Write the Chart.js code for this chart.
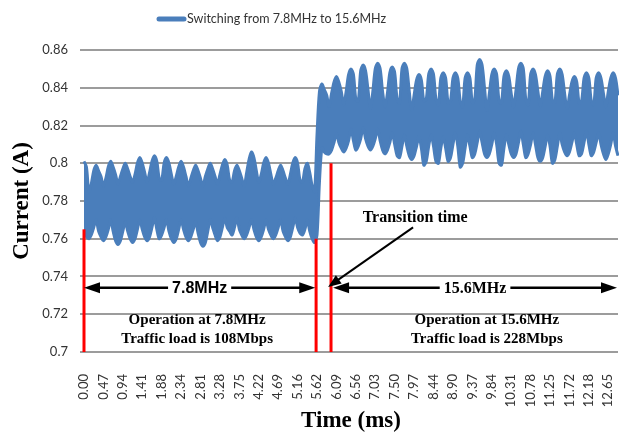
<!DOCTYPE html>
<html>
<head>
<meta charset="utf-8">
<title>Switching from 7.8MHz to 15.6MHz</title>
<script src="https://cdn.jsdelivr.net/npm/chart.js@4/dist/chart.umd.min.js"></script>
<style>
  html, body { margin: 0; padding: 0; background: #fff; }
  #wrap { width: 619px; height: 435px; }
</style>
</head>
<body>
<div id="wrap"><canvas id="currentChart" width="619" height="435"></canvas></div>
<script>
// ─── DATA ───
const seriesName = 'Switching from 7.8MHz to 15.6MHz';

// time axis labels (ms), one every 8 samples
const tickLabels = ['0.00', '0.47', '0.94', '1.41', '1.88', '2.34', '2.81', '3.28', '3.75', '4.22',
    '4.69', '5.16', '5.62', '6.09', '6.56', '7.03', '7.50', '7.97', '8.44', '8.90',
    '9.37', '9.84', '10.31', '10.78', '11.25', '11.72', '12.18', '12.65'];
const samplesPerTick = 8;

const yTickLabels = ['0.7', '0.72', '0.74', '0.76', '0.78', '0.8', '0.82', '0.84', '0.86'];

// upper / lower edge of the current trace (A), 7.8MHz part
const peak78 = [
    0.801, 0.798, 0.785, 0.789, 0.796, 0.799, 0.796, 0.793, 0.788, 0.792,
    0.798, 0.801, 0.798, 0.794, 0.789, 0.793, 0.797, 0.800, 0.797, 0.793,
    0.790, 0.794, 0.800, 0.803, 0.800, 0.795, 0.790, 0.795, 0.801, 0.804,
    0.801, 0.792, 0.791, 0.800, 0.803, 0.800, 0.794, 0.789, 0.793, 0.798,
    0.801, 0.798, 0.793, 0.788, 0.792, 0.796, 0.799, 0.796, 0.792, 0.788,
    0.793, 0.797, 0.800, 0.797, 0.793, 0.789, 0.794, 0.799, 0.802, 0.799,
    0.791, 0.790, 0.796, 0.799, 0.796, 0.792, 0.788, 0.795, 0.802, 0.806,
    0.803, 0.796, 0.790, 0.794, 0.800, 0.803, 0.800, 0.794, 0.789, 0.792,
    0.796, 0.799, 0.796, 0.792, 0.789, 0.794, 0.800, 0.803, 0.800, 0.791,
    0.790, 0.797, 0.800, 0.795, 0.788, 0.785, 0.815, 0.838
];
const trough78 = [
    0.763, 0.761, 0.760, 0.762, 0.766, 0.770, 0.764, 0.761, 0.759, 0.761,
    0.765, 0.770, 0.764, 0.759, 0.757, 0.759, 0.764, 0.769, 0.764, 0.760,
    0.758, 0.760, 0.765, 0.770, 0.765, 0.761, 0.759, 0.761, 0.766, 0.771,
    0.765, 0.760, 0.762, 0.766, 0.770, 0.764, 0.760, 0.758, 0.760, 0.765,
    0.770, 0.765, 0.761, 0.759, 0.761, 0.765, 0.769, 0.763, 0.758, 0.756,
    0.758, 0.764, 0.770, 0.766, 0.762, 0.759, 0.761, 0.766, 0.771, 0.766,
    0.764, 0.762, 0.766, 0.771, 0.765, 0.762, 0.760, 0.762, 0.766, 0.770,
    0.765, 0.761, 0.759, 0.761, 0.765, 0.770, 0.765, 0.762, 0.760, 0.762,
    0.766, 0.770, 0.764, 0.761, 0.759, 0.761, 0.766, 0.771, 0.766, 0.763,
    0.762, 0.765, 0.770, 0.764, 0.760, 0.758, 0.762, 0.790
];

// 15.6MHz part
const peak156 = [
    0.842, 0.839, 0.836, 0.830, 0.837, 0.843, 0.846, 0.843, 0.838, 0.831,
    0.838, 0.847, 0.850, 0.847, 0.834, 0.833, 0.849, 0.852, 0.849, 0.839,
    0.829, 0.838, 0.850, 0.853, 0.850, 0.838, 0.830, 0.837, 0.848, 0.851,
    0.848, 0.834, 0.832, 0.850, 0.853, 0.850, 0.838, 0.828, 0.836, 0.844,
    0.847, 0.844, 0.833, 0.834, 0.847, 0.850, 0.847, 0.834, 0.831, 0.845,
    0.848, 0.845, 0.832, 0.833, 0.845, 0.848, 0.845, 0.833, 0.830, 0.845,
    0.848, 0.845, 0.832, 0.834, 0.852, 0.855, 0.852, 0.840, 0.828, 0.837,
    0.847, 0.850, 0.847, 0.833, 0.832, 0.846, 0.849, 0.846, 0.837, 0.830,
    0.839, 0.850, 0.853, 0.850, 0.834, 0.831, 0.847, 0.850, 0.847, 0.838,
    0.830, 0.838, 0.846, 0.849, 0.846, 0.833, 0.832, 0.847, 0.850, 0.847,
    0.837, 0.829, 0.836, 0.843, 0.846, 0.843, 0.832, 0.833, 0.845, 0.848,
    0.845, 0.833, 0.831, 0.845, 0.848, 0.845, 0.837, 0.830, 0.838, 0.845,
    0.848, 0.845, 0.836
];
const trough156 = [
    0.808, 0.806, 0.805, 0.805, 0.807, 0.811, 0.816, 0.811, 0.808, 0.806,
    0.808, 0.812, 0.818, 0.812, 0.807, 0.809, 0.813, 0.819, 0.813, 0.809,
    0.807, 0.809, 0.813, 0.818, 0.812, 0.807, 0.805, 0.807, 0.811, 0.816,
    0.810, 0.804, 0.803, 0.809, 0.815, 0.809, 0.804, 0.802, 0.804, 0.809,
    0.814, 0.808, 0.799, 0.801, 0.809, 0.815, 0.809, 0.801, 0.800, 0.808,
    0.814, 0.808, 0.801, 0.803, 0.810, 0.816, 0.809, 0.798, 0.800, 0.808,
    0.815, 0.809, 0.803, 0.805, 0.811, 0.817, 0.811, 0.805, 0.803, 0.805,
    0.810, 0.816, 0.810, 0.800, 0.799, 0.808, 0.815, 0.810, 0.805, 0.803,
    0.805, 0.811, 0.817, 0.810, 0.803, 0.805, 0.810, 0.816, 0.810, 0.803,
    0.801, 0.803, 0.809, 0.815, 0.809, 0.800, 0.802, 0.809, 0.816, 0.810,
    0.806, 0.804, 0.806, 0.811, 0.816, 0.810, 0.804, 0.805, 0.811, 0.817,
    0.810, 0.804, 0.806, 0.811, 0.816, 0.810, 0.805, 0.802, 0.805, 0.810,
    0.816, 0.809, 0.804
];

// annotation positions (ms / A)
const markers = [
    { ms: 0.00, top: 0.765 },
    { ms: 5.60, top: 0.760 },
    { ms: 5.96, top: 0.800 }
];
const spanY = 0.734;

(function () {
    'use strict';

    const BLUE = '#4a7ebb';
    const upper = peak78.concat(peak156);
    const lower = trough78.concat(trough156);
    const labels = upper.map((_, i) => i % samplesPerTick === 0 ? tickLabels[i / samplesPerTick] : '');
    const msPerTick = (parseFloat(tickLabels[tickLabels.length - 1]) - parseFloat(tickLabels[0])) / (tickLabels.length - 1);

    Chart.defaults.font.family = 'Lato';
    Chart.defaults.color = '#333';

    // ─── ARROW HELPERS ───
    function head(ctx, x1, y1, x2, y2, len, half) {
        const a = Math.atan2(y2 - y1, x2 - x1);
        const bx = x2 - len * Math.cos(a), by = y2 - len * Math.sin(a);
        ctx.beginPath();
        ctx.moveTo(x2, y2);
        ctx.lineTo(bx + half * Math.sin(a), by - half * Math.cos(a));
        ctx.lineTo(bx - half * Math.sin(a), by + half * Math.cos(a));
        ctx.closePath();
        ctx.fill();
    }

    function line(ctx, x1, y1, x2, y2) {
        ctx.beginPath();
        ctx.moveTo(x1, y1);
        ctx.lineTo(x2, y2);
        ctx.stroke();
    }

    function span(ctx, x1, x2, y, text, font) {
        ctx.font = font;
        const cx = (x1 + x2) / 2;
        const w = ctx.measureText(text).width;
        ctx.lineWidth = 2.5;
        line(ctx, x1 + 8, y, cx - w / 2 - 4, y);
        line(ctx, cx + w / 2 + 4, y, x2 - 8, y);
        head(ctx, x2, y, x1, y, 16, 5.5);
        head(ctx, x1, y, x2, y, 16, 5.5);
        ctx.textAlign = 'center';
        ctx.textBaseline = 'middle';
        ctx.fillText(text, cx, y + 1);
    }

    // ─── LEGEND (Excel places it left of centre) ───
    const legendBox = {
        id: 'legendBox',
        afterDraw(chart) {
            const { ctx } = chart;
            ctx.save();
            ctx.strokeStyle = BLUE;
            ctx.lineWidth = 5;
            ctx.lineCap = 'round';
            line(ctx, 159, 19, 184, 19);
            ctx.fillStyle = '#333';
            ctx.font = '12.5px Lato';
            ctx.textAlign = 'left';
            ctx.textBaseline = 'middle';
            ctx.fillText(seriesName, 187, 19);
            ctx.restore();
        }
    };

    // ─── ANNOTATIONS ───
    const notes = {
        id: 'notes',
        afterDatasetsDraw(chart) {
            const { ctx, scales: { x, y } } = chart;
            const px = ms => x.getPixelForValue(ms / msPerTick * samplesPerTick);
            const base = y.getPixelForValue(0.70);
            ctx.save();

            // red transition markers
            ctx.strokeStyle = '#ff0000';
            ctx.lineWidth = 3;
            markers.forEach(m => line(ctx, px(m.ms), base, px(m.ms), y.getPixelForValue(m.top)));

            ctx.strokeStyle = '#000';
            ctx.fillStyle = '#000';
            const sy = y.getPixelForValue(spanY);
            span(ctx, px(0.00), px(5.58), sy, '7.8MHz', 'bold 16px "Liberation Sans"');
            span(ctx, px(6.01), px(12.86), sy, '15.6MHz', 'bold 16px "Liberation Serif"');

            // transition arrow
            const ax1 = px(7.94), ay1 = y.getPixelForValue(0.766);
            const ax2 = px(5.89), ay2 = y.getPixelForValue(0.7345);
            ctx.lineWidth = 2;
            line(ctx, ax1, ay1, ax2 + (ax1 - ax2) * 0.1, ay2 + (ay1 - ay2) * 0.1);
            head(ctx, ax1, ay1, ax2, ay2, 13, 5);

            ctx.textAlign = 'center';
            ctx.textBaseline = 'middle';
            ctx.font = 'bold 16px "Liberation Serif"';
            ctx.fillText('Transition time', px(7.99), y.getPixelForValue(0.7712));

            ctx.font = 'bold 15px "Liberation Serif"';
            ctx.fillText('Operation at 7.8MHz', px(2.73), y.getPixelForValue(0.7168));
            ctx.fillText('Traffic load is 108Mbps', px(2.73), y.getPixelForValue(0.7068));
            ctx.fillText('Operation at 15.6MHz', px(9.72), y.getPixelForValue(0.7168));
            ctx.fillText('Traffic load is 228Mbps', px(9.72), y.getPixelForValue(0.7068));
            ctx.restore();
        }
    };

    // ─── CHART ───
    new Chart(document.getElementById('currentChart'), {
        type: 'line',
        data: {
            labels: labels,
            datasets: [
                { label: 'lower', data: lower, borderColor: BLUE, borderWidth: 3, pointRadius: 0, tension: 0.3, fill: false },
                { label: seriesName, data: upper, borderColor: BLUE, backgroundColor: BLUE, borderWidth: 3, pointRadius: 0, tension: 0.3, fill: '-1' }
            ]
        },
        options: {
            responsive: false,
            animation: false,
            devicePixelRatio: 1,
            layout: { padding: { top: 50, right: 1, bottom: 0, left: 0 } },
            plugins: {
                tooltip: { enabled: false },
                legend: { display: false }
            },
            scales: {
                x: {
                    grid: { display: false },
                    border: { display: false },
                    ticks: {
                        autoSkip: false, minRotation: 90, maxRotation: 90, padding: 14,
                        font: { size: 13 }, color: '#333',
                        callback: (v, i) => labels[i]
                    },
                    title: { display: true, text: 'Time (ms)', color: '#000', padding: { top: 0, bottom: 0 }, font: { family: 'Liberation Serif', size: 23, weight: 'bold' } },
                    afterFit: s => { s.height = 83; s.paddingLeft = 0; s.paddingRight = 0; }
                },
                y: {
                    min: 0.70, max: 0.86,
                    grid: { color: '#9c9c9c', lineWidth: 2, tickLength: 4 },
                    border: { display: false },
                    ticks: { stepSize: 0.02, padding: 12, font: { size: 13 }, color: '#333', callback: (v, i) => yTickLabels[i] },
                    title: { display: true, text: 'Current (A)', color: '#000', padding: { top: 8, bottom: 0 }, font: { family: 'Liberation Serif', size: 23, weight: 'bold' } },
                    afterFit: s => { s.width = 84; s.paddingTop = 0; s.paddingBottom = 0; }
                }
            }
        },
        plugins: [notes, legendBox]
    });
})();
</script>
</body>
</html>
